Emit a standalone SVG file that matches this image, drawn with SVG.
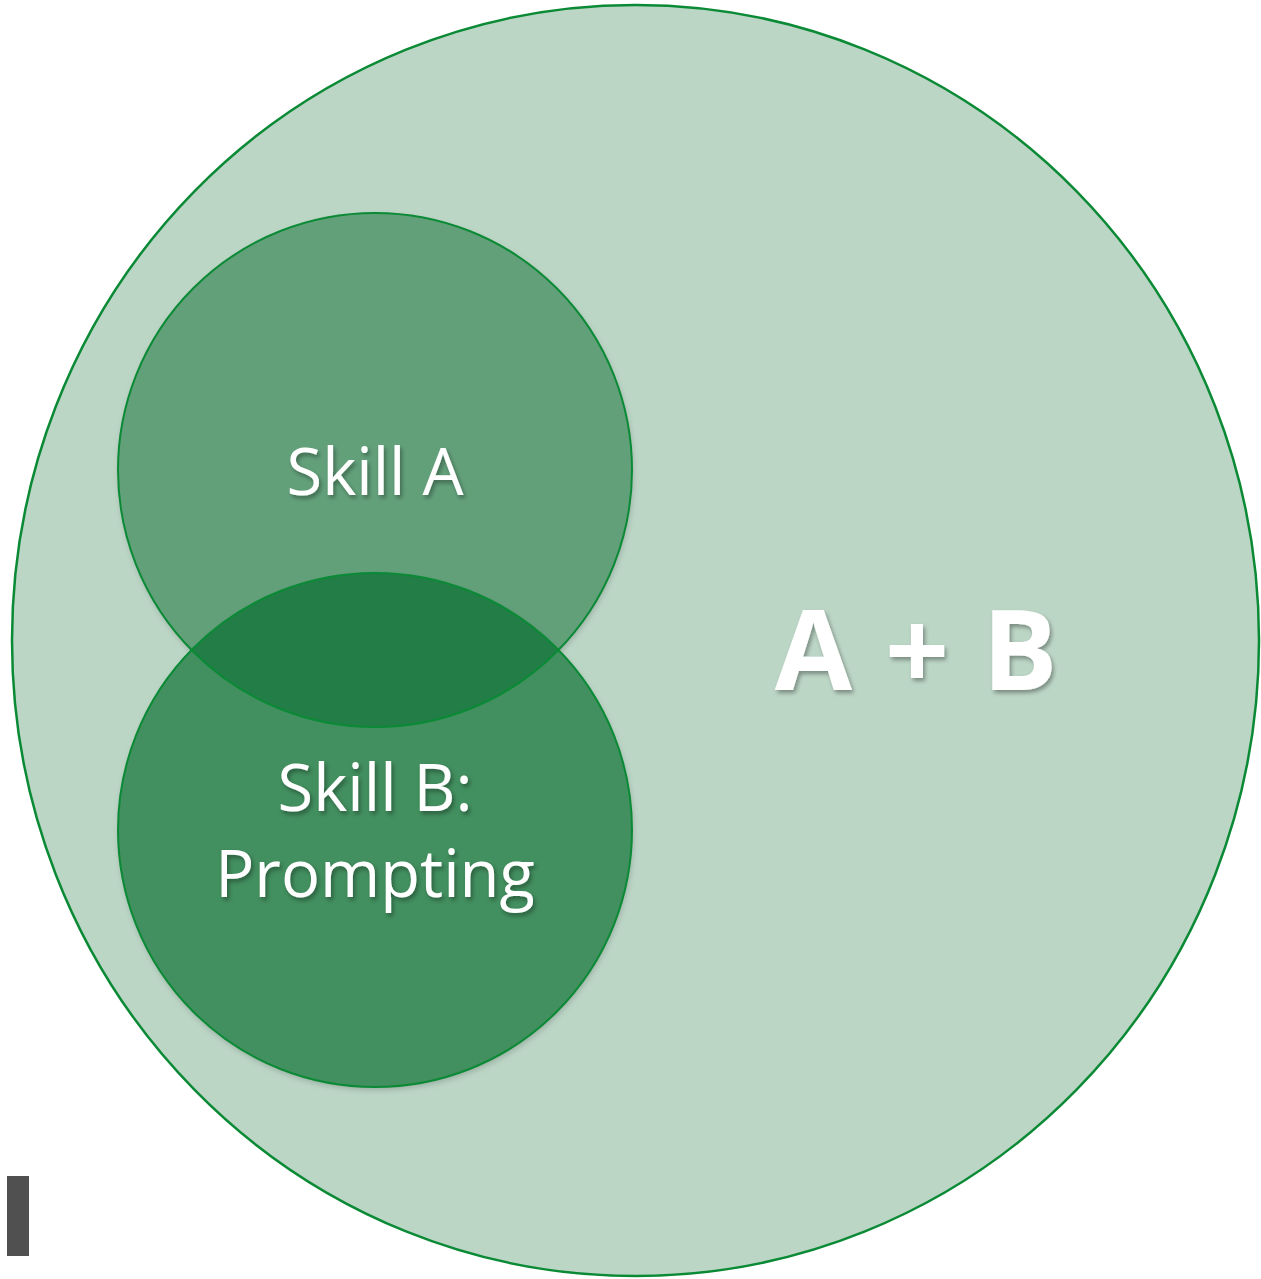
<svg xmlns="http://www.w3.org/2000/svg" width="1261" height="1279" viewBox="0 0 1261 1279">
<defs>
<style>
.lbl{font-family:"Open Sans","Liberation Sans",sans-serif;fill:#ffffff;text-anchor:middle;filter:url(#ts)}
.ring{fill:none;stroke:#0b8a36;stroke-width:2}
</style>
<filter id="ts" x="-10%" y="-20%" width="130%" height="150%">
<feDropShadow dx="2" dy="3" stdDeviation="2" flood-color="#000000" flood-opacity="0.35"/>
</filter>
<filter id="cs" x="-5%" y="-5%" width="110%" height="110%">
<feGaussianBlur in="SourceAlpha" stdDeviation="3"/>
<feOffset dx="1" dy="3" result="b"/>
<feFlood flood-color="#000" flood-opacity="0.2"/>
<feComposite in2="b" operator="in"/>
<feMerge><feMergeNode/><feMergeNode in="SourceGraphic"/></feMerge>
</filter>
<clipPath id="clipA"><circle cx="375" cy="470" r="257"/></clipPath>
</defs>
<rect x="0" y="0" width="1261" height="1279" fill="#ffffff"/>
<g id="outer">
<ellipse cx="635.5" cy="640.5" rx="623.5" ry="635.5" fill="#bcd6c6" stroke="#0b8a36" stroke-width="2.5"/>
</g>
<g id="skillA">
<circle cx="375" cy="470" r="257" fill="#62a07a" filter="url(#cs)"/>
</g>
<g id="skillB">
<circle cx="375" cy="830" r="257" fill="#428f5f" filter="url(#cs)"/>
</g>
<g id="overlap">
<circle cx="375" cy="830" r="257" fill="#227d46" clip-path="url(#clipA)"/>
</g>
<g id="outlines">
<circle class="ring" cx="375" cy="470" r="257"/>
<circle class="ring" cx="375" cy="830" r="257"/>
</g>
<g id="labels">
<text class="lbl" x="375" y="495" font-size="65">Skill A</text>
<text class="lbl" x="375" y="811" font-size="65">Skill B:</text>
<text class="lbl" x="375" y="897" font-size="65">Prompting</text>
<text class="lbl" x="917" y="690" font-size="112" font-weight="bold" letter-spacing="2">A + B</text>
</g>
<g id="bar">
<rect x="7" y="1176" width="22" height="80" fill="#505050"/>
</g>
</svg>
